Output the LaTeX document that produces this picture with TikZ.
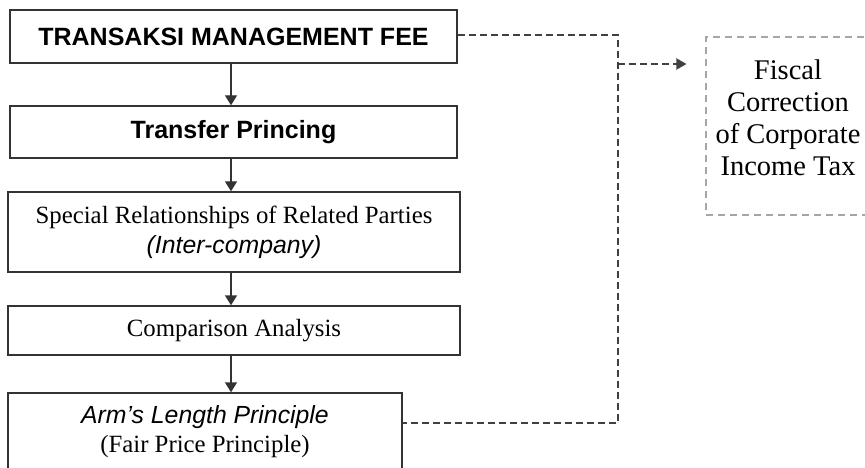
\documentclass[tikz,border=0pt]{standalone}
\usepackage{fontspec}
\setmainfont{Liberation Serif}
\setsansfont{Liberation Sans}
\usetikzlibrary{arrows.meta}
\begin{document}
\begin{tikzpicture}[x=1pt,y=-1pt,
  flowbox/.style={draw=black!80,line width=1.4pt,rectangle,align=center,inner sep=0pt},
  fiscalbox/.style={draw=black!35,line width=1.1pt,dash pattern=on 7pt off 5pt,rectangle,inner sep=0pt},
  arr/.style={draw=black!80,line width=1.4pt,-{Triangle[length=10pt,width=12pt]}},
  dashconn/.style={draw=black!75,line width=2pt,dash pattern=on 7pt off 4pt},
  dasharr/.style={dashconn,-{Triangle[length=10pt,width=11pt]}}]
\useasboundingbox (0,0) rectangle (865,468);
\node[flowbox,minimum width=447pt,minimum height=53pt,font=\sffamily\bfseries\fontsize{25}{29}\selectfont] (box1) at (233.5,36.5) {TRANSAKSI MANAGEMENT FEE};
\node[flowbox,minimum width=447pt,minimum height=52pt,font=\sffamily\bfseries\fontsize{25}{29}\selectfont] (box2) at (233.5,132) {Transfer Princing};
\node[flowbox,minimum width=452pt,minimum height=80pt,font=\fontsize{24.8}{30}\selectfont] (box3) at (234,232) {Special Relationships of Related Parties\\{\sffamily\itshape (Inter-company)}};
\node[flowbox,minimum width=452pt,minimum height=49pt,font=\fontsize{24.8}{29}\selectfont] (box4) at (234,330.5) {Comparison Analysis};
\node[flowbox,minimum width=394pt,minimum height=78pt,font=\fontsize{24.8}{29}\selectfont] (box5) at (205,432) {{\sffamily\itshape Arm’s Length Principle}\\(Fair Price Principle)};
\node[fiscalbox,minimum width=164pt,minimum height=178pt] (fiscal) at (788,126) {};
\node[align=center,inner sep=0pt,font=\fontsize{28.5}{32}\selectfont] (fiscaltext) at (788,118) {Fiscal\\Correction\\of Corporate\\Income Tax};
\coordinate (ax) at (231,0);
\draw[arr] (box1.south -| ax) -- (box2.north -| ax);
\draw[arr] (box2.south -| ax) -- (box3.north -| ax);
\draw[arr] (box3.south -| ax) -- (box4.north -| ax);
\draw[arr] (box4.south -| ax) -- (box5.north -| ax);
\coordinate (jtop) at (618,35);
\coordinate (jbot) at (618,423);
\coordinate (jmid) at (618,64);
\draw[dashconn] (box1.east |- jtop) -- (jtop) -- (jbot) -- (box5.east |- jbot);
\draw[dasharr] (jmid) -- ([xshift=-19pt]fiscal.west |- jmid);
\end{tikzpicture}
\end{document}
